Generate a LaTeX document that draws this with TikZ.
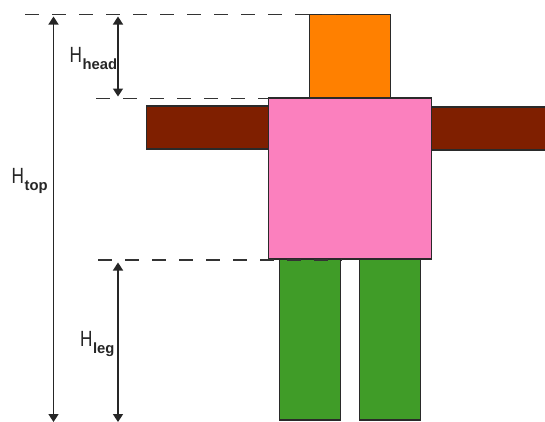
\documentclass[tikz,border=0pt]{standalone}
\usepackage{fontspec}
\setmainfont{Liberation Sans}
\newfontfamily\labelfont[FakeStretch=0.78]{Liberation Sans}
\usetikzlibrary{arrows.meta}
\definecolor{headc}{HTML}{FF8000}
\definecolor{torsoc}{HTML}{FB80BE}
\definecolor{armc}{HTML}{7F1F00}
\definecolor{legc}{HTML}{409C28}
\definecolor{edgec}{HTML}{2A2A2A}
\tikzset{
  part/.style={draw=edgec,line width=1.4pt,inner sep=0pt,outer sep=0pt,anchor=north west},
  guide/.style={draw=black!80,line width=1.6pt,dash pattern=on 14pt off 13pt},
  measure/.style={draw=black!85,line width=1.6pt,{Triangle[width=10pt,length=8pt]}-{Triangle[width=10pt,length=8pt]}},
  dimlabel/.style={inner sep=0pt,anchor=base west,text=black!85}
}
\newcommand{\dimtext}[1]{{\labelfont\fontsize{22pt}{24pt}\selectfont H}\hspace{0.5pt}\raisebox{-7pt}{\fontsize{14.8pt}{18pt}\selectfont\bfseries #1}}
\begin{document}
\begin{tikzpicture}[x=1pt,y=-1pt]
\useasboundingbox (0,0) rectangle (545,421);
\coordinate (topL) at (25,14.5);
\coordinate (topR) at (350,14.5);
\coordinate (midL) at (96,98.5);
\coordinate (midR) at (270,98.5);
\coordinate (lowL) at (98,260);
\coordinate (lowR) at (342,260);
\coordinate (a1t) at (53.5,16.5);
\coordinate (a1b) at (53.5,422);
\coordinate (a2t) at (118,16.5);
\coordinate (a2b) at (118,96.5);
\coordinate (a3t) at (118,262.5);
\coordinate (a3b) at (118,422);
\node[part,fill=armc,minimum width=123pt,minimum height=43pt] (armL) at (146.5,106) {};
\node[part,fill=armc,minimum width=120pt,minimum height=43pt] (armR) at (431.5,107) {};
\node[part,fill=headc,minimum width=81pt,minimum height=84pt] (head) at (309.7,14.5) {};
\node[part,fill=legc,minimum width=61pt,minimum height=161pt] (legL) at (279.5,259) {};
\node[part,fill=legc,minimum width=61pt,minimum height=161pt] (legR) at (359.5,259) {};
\node[part,fill=torsoc,minimum width=163pt,minimum height=161pt] (torso) at (268.7,98) {};
\draw[guide] (topL) -- (topR);
\draw[guide] (midL) -- (midR);
\draw[guide] (lowL) -- (lowR);
\draw[measure] (a1t) -- (a1b);
\draw[measure] (a2t) -- (a2b);
\draw[measure] (a3t) -- (a3b);
\node[dimlabel] (ltop) at (11.5,183) {\dimtext{top}};
\node[dimlabel] (lhead) at (69.5,62.5) {\dimtext{head}};
\node[dimlabel] (lleg) at (80,346) {\dimtext{leg}};
\end{tikzpicture}
\end{document}
